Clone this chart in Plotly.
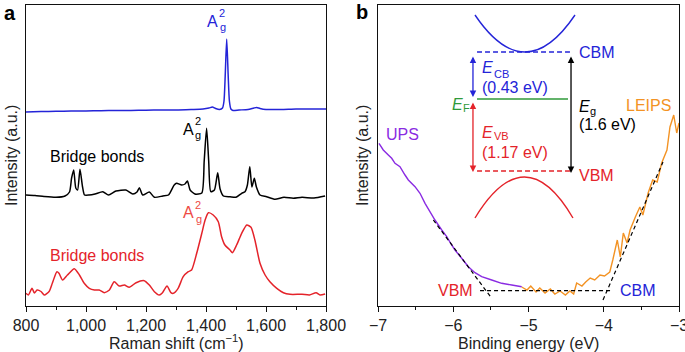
import plotly.graph_objects as go

FONT = "Liberation Sans, Arial, Helvetica, sans-serif"

# ---------------- Panel a data (Raman) ----------------
blue_x = [800, 850, 900, 950, 1000, 1050, 1100, 1150, 1200, 1250, 1300, 1350, 1390, 1410, 1421,
          1432, 1445, 1455, 1460, 1464, 1469, 1474, 1478, 1483, 1490, 1510, 1540, 1560, 1569,
          1580, 1600, 1650, 1700, 1750, 1800]
blue_y = [194, 194.5, 194.7, 195, 195, 195.3, 195.5, 195.6, 195.8, 196, 196, 196.5, 197, 198, 199,
          197.5, 196.5, 198, 205, 230, 267, 230, 205, 197, 195.5, 196, 196.5, 198, 198.5,
          197.5, 196.5, 196.5, 197, 197, 197]

black_x = [800, 830, 860, 900, 930, 945, 952, 959, 966, 972, 980, 988, 995, 1010, 1030, 1056,
           1075, 1100, 1133, 1156, 1170, 1178, 1189, 1211, 1228, 1256, 1275, 1294, 1302, 1319,
           1330, 1338, 1347, 1363, 1386, 1394, 1402, 1409, 1416, 1428, 1439, 1447, 1458, 1480,
           1500, 1519, 1530, 1538, 1546, 1553, 1561, 1568, 1580, 1602, 1630, 1660, 1691, 1720,
           1760, 1797]
black_y = [111, 110.5, 109.5, 108.7, 110, 114, 128, 136, 118, 116, 136.7, 120, 111, 111, 112, 114.3,
           111, 115, 116, 112, 114, 118.3, 111, 114, 108.7, 110, 111, 121, 122.7, 121,
           122, 125, 116, 112, 113, 145, 177.7, 145, 114.3, 116, 133.3, 117, 110, 109.3,
           108.7, 112.7, 114.3, 121, 139.3, 119, 127.7, 119, 111, 109.3, 106.7, 108.7, 107.7, 108.7,
           108, 110]

red_x = [800, 808, 820, 828, 837, 850, 861, 877, 888, 903, 910, 922, 938, 961, 978, 994, 1011,
         1028, 1044, 1061, 1078, 1094, 1111, 1128, 1144, 1167, 1194, 1211, 1228, 1244, 1255,
         1270, 1283, 1291, 1307, 1324, 1341, 1352, 1369, 1386, 1397, 1408, 1424, 1441, 1452,
         1463, 1480, 1488, 1502, 1519, 1536, 1550, 1563, 1580, 1597, 1613, 1636, 1658, 1680,
         1720, 1745, 1767, 1780, 1797]
red_y = [12.7, 11, 17.7, 13, 16, 14.5, 11, 14.5, 23, 34.3, 32.7, 26, 31, 37.3, 31, 22.7, 17.7,
         16, 16, 13.3, 16, 24.3, 20, 21, 18.7, 23.3, 25.3, 21, 14.3, 11, 13.3,
         20, 13.3, 12.7, 17.7, 29.3, 34.3, 36, 52.7, 72.7, 86, 93.3, 91, 84.3, 69.3,
         61, 56, 53.3, 61, 72.7, 81, 78.7, 66, 42.7, 31, 24.3, 17.7, 13.3, 11.7,
         11.7, 11, 13.3, 11, 12]

a_tickvals = [800, 1000, 1200, 1400, 1600, 1800]
a_ticktext = ["800", "1,000", "1,200", "1,400", "1,600", "1,800"]

# ---------------- Panel b data (UPS / LEIPS) ----------------
ups_x = [-6.987, -6.930, -6.863, -6.818, -6.774, -6.708, -6.641, -6.597, -6.508, -6.442, -6.375,
         -6.309, -6.243, -6.153, -6.087, -6.021, -5.977, -5.888, -5.800, -5.711, -5.622, -5.489,
         -5.356, -5.223, -5.090]
ups_y = [162.7, 156, 151, 147.7, 142.7, 139.3, 131, 126, 119.3, 112.7, 102.7,
         94.3, 86, 76, 69.3, 61, 56, 47.7, 39.3, 33.3, 29.3, 26,
         22.7, 21, 19.3]

leips_x = [-5.09, -5.02, -4.97, -4.90, -4.85, -4.78, -4.71, -4.65, -4.58, -4.51, -4.45, -4.40,
           -4.36, -4.29, -4.24, -4.18, -4.12, -4.05, -3.99, -3.92, -3.88, -3.82, -3.78, -3.74,
           -3.69, -3.65, -3.58, -3.52, -3.48, -3.41, -3.35, -3.29, -3.23, -3.16, -3.12, -3.07,
           -3.03, -3.00]
leips_y = [19, 16, 20, 14, 18, 13, 17, 12, 15, 11, 15, 12,
           23, 20, 24, 28, 26, 31, 30, 34, 46, 66, 49, 73,
           63, 76, 89, 99, 91, 113, 126, 124, 143, 156, 179, 191,
           173, 183]

vbm_fit_x = [-6.265, -5.489]
vbm_fit_y = [86, 7.7]
base_fit_x = [-5.644, -3.877]
base_fit_y = [15.3, 15.3]
cbm_fit_x = [-4.010, -3.213]
cbm_fit_y = [6, 144]

b_tickvals = [-7, -6, -5, -4, -3]
b_ticktext = ["\u22127", "\u22126", "\u22125", "\u22124", "\u22123"]

BLUE = "#2424d8"
RED = "#e4232a"
RED_L = "#ee4a44"
PURPLE = "#8a2be2"
ORANGE = "#f39324"
GREEN = "#2f9a3a"

fig = go.Figure()
fig.add_trace(go.Scatter(x=blue_x, y=blue_y, mode="lines", line=dict(color=BLUE, width=1.5, shape="spline", smoothing=0.6),
                         xaxis="x", yaxis="y", hoverinfo="skip"))
fig.add_trace(go.Scatter(x=black_x, y=black_y, mode="lines", line=dict(color="black", width=1.5, shape="spline", smoothing=0.6),
                         xaxis="x", yaxis="y", hoverinfo="skip"))
fig.add_trace(go.Scatter(x=red_x, y=red_y, mode="lines", line=dict(color=RED, width=1.5, shape="spline", smoothing=0.6),
                         xaxis="x", yaxis="y", hoverinfo="skip"))

fig.add_trace(go.Scatter(x=ups_x, y=ups_y, mode="lines", line=dict(color=PURPLE, width=1.4),
                         xaxis="x2", yaxis="y2", hoverinfo="skip"))
fig.add_trace(go.Scatter(x=leips_x, y=leips_y, mode="lines", line=dict(color=ORANGE, width=1.4),
                         xaxis="x2", yaxis="y2", hoverinfo="skip"))
for fx, fy in [(vbm_fit_x, vbm_fit_y), (base_fit_x, base_fit_y), (cbm_fit_x, cbm_fit_y)]:
    fig.add_trace(go.Scatter(x=fx, y=fy, mode="lines", line=dict(color="black", width=1.2, dash="4px,3px"),
                             xaxis="x2", yaxis="y2", hoverinfo="skip"))

shapes = []
shapes.append(dict(type="path", xref="x2", yref="y2", path="M -5.711,291 Q -5.047,217 -4.382,291",
                   line=dict(color=BLUE, width=1.4)))
shapes.append(dict(type="path", xref="x2", yref="y2", path="M -5.711,88 Q -5.047,170 -4.409,88",
                   line=dict(color=RED, width=1.4)))
shapes.append(dict(type="line", xref="x2", yref="y2", x0=-5.684, x1=-4.449, y0=254, y1=254,
                   line=dict(color=BLUE, width=1.3, dash="5px,3px")))
shapes.append(dict(type="line", xref="x2", yref="y2", x0=-5.684, x1=-4.449, y0=135, y1=135,
                   line=dict(color=RED, width=1.3, dash="5px,3px")))
shapes.append(dict(type="line", xref="x2", yref="y2", x0=-5.684, x1=-4.475, y0=207, y1=207,
                   line=dict(color=GREEN, width=1.4)))
fig.update_layout(shapes=shapes)

ann = []
def txt(x, y, s, color="black", size=16, xanchor="center", xref="x", yref="y", **kw):
    ann.append(dict(x=x, y=y, text=s, xref=xref, yref=yref, showarrow=False, xanchor=xanchor,
                    yanchor="middle", font=dict(family=FONT, size=size, color=color), **kw))

def arrow(x, y0, y1, color):
    ann.append(dict(x=x, y=y1, ax=x, ay=y0, xref="x2", yref="y2", axref="x2", ayref="y2", text="",
                    showarrow=True, arrowhead=2, startarrowhead=2, arrowside="end+start",
                    arrowsize=1, startarrowsize=1, arrowwidth=1.3, arrowcolor=color, standoff=0, startstandoff=0))

# panel a labels
txt(1423, 284.5, "A", BLUE)
txt(1453, 293, "2", BLUE, size=11)
txt(1457, 279, "g", BLUE, size=11)
txt(1340, 177, "A", "black")
txt(1372, 185, "2", "black", size=11)
txt(1374, 171, "g", "black", size=11)
txt(1342, 93.5, "A", RED_L)
txt(1374, 101, "2", RED_L, size=11)
txt(1376, 87, "g", RED_L, size=11)
txt(1037, 150, "Bridge bonds", "black")
txt(1037, 51, "Bridge bonds", RED)

# panel b labels
B = dict(xref="x2", yref="y2")
txt(-4.356, 253, "CBM", BLUE, xanchor="left", **B)
txt(-4.356, 131, "VBM", RED, xanchor="left", **B)
txt(-5.645, 238, "<i>E</i>", BLUE, xanchor="left", **B)
txt(-5.485, 232, "CB", BLUE, size=11, xanchor="left", **B)
txt(-5.645, 218, "(0.43 eV)", BLUE, xanchor="left", **B)
txt(-6.043, 201, "<i>E</i>", GREEN, xanchor="left", **B)
txt(-5.897, 197.5, "F", GREEN, size=11, xanchor="left", **B)
txt(-5.645, 174, "<i>E</i>", RED, xanchor="left", **B)
txt(-5.485, 170, "VB", RED, size=11, xanchor="left", **B)
txt(-5.645, 154, "(1.17 eV)", RED, xanchor="left", **B)
txt(-4.356, 199, "<i>E</i>", "black", xanchor="left", **B)
txt(-4.209, 195, "g", "black", size=11, xanchor="left", **B)
txt(-4.356, 181, "(1.6 eV)", "black", xanchor="left", **B)
txt(-6.92, 172, "UPS", PURPLE, xanchor="left", **B)
txt(-3.08, 200, "LEIPS", ORANGE, xanchor="right", **B)
txt(-5.711, 16, "VBM", RED, xanchor="right", **B)
txt(-3.811, 16, "CBM", BLUE, xanchor="left", **B)

arrow(-5.738, 251, 209, BLUE)
arrow(-5.738, 205, 134, RED)
arrow(-4.435, 251, 133, "black")

# axis titles and panel letters (paper coords)
txt(176 / 685, 10 / 352, "Raman shift (cm<sup>\u22121</sup>)", "#222", xref="paper", yref="paper")
txt(528 / 685, 9 / 352, "Binding energy (eV)", "#222", xref="paper", yref="paper")
txt(11 / 685, 196 / 352, "Intensity (a.u.)", "#222", xref="paper", yref="paper", textangle=-90)
txt(362 / 685, 196 / 352, "Intensity (a.u.)", "#222", xref="paper", yref="paper", textangle=-90)
txt(10 / 685, 339 / 352, "<b>a</b>", "black", size=20, xref="paper", yref="paper")
txt(362 / 685, 340 / 352, "<b>b</b>", "black", size=20, xref="paper", yref="paper")
fig.update_layout(annotations=ann)

axis_common = dict(showline=True, linecolor="#111", linewidth=1.2, mirror=True, showgrid=False,
                   zeroline=False, ticks="outside", ticklen=5, tickwidth=1.2, tickcolor="#111",
                   automargin=False, ticklabeloverflow="allow",
                   tickfont=dict(family=FONT, size=16, color="#222"))
yaxis_common = dict(showline=True, linecolor="#111", linewidth=1.2, mirror=True, showgrid=False,
                    zeroline=False, showticklabels=False, ticks="", range=[0, 301], fixedrange=True,
                    automargin=False)

fig.update_layout(
    width=685, height=352, margin=dict(l=0, r=0, t=0, b=0, autoexpand=False),
    paper_bgcolor="white", plot_bgcolor="white", showlegend=False,
    xaxis=dict(domain=[26 / 685, 326 / 685], range=[800, 1800], anchor="y",
               tickvals=a_tickvals, ticktext=a_ticktext,
               minor=dict(dtick=100, tick0=800, ticks="outside", ticklen=3, tickwidth=1.2, tickcolor="#111"),
               **axis_common),
    yaxis=dict(domain=[46 / 352, 347 / 352], anchor="x", **yaxis_common),
    xaxis2=dict(domain=[378 / 685, 679 / 685], range=[-7, -3], anchor="y2",
                tickvals=b_tickvals, ticktext=b_ticktext,
                minor=dict(dtick=0.5, tick0=-7, ticks="outside", ticklen=3, tickwidth=1.2, tickcolor="#111"),
                **axis_common),
    yaxis2=dict(domain=[46 / 352, 347 / 352], anchor="x2", **yaxis_common),
)

fig.write_html("out.html")
